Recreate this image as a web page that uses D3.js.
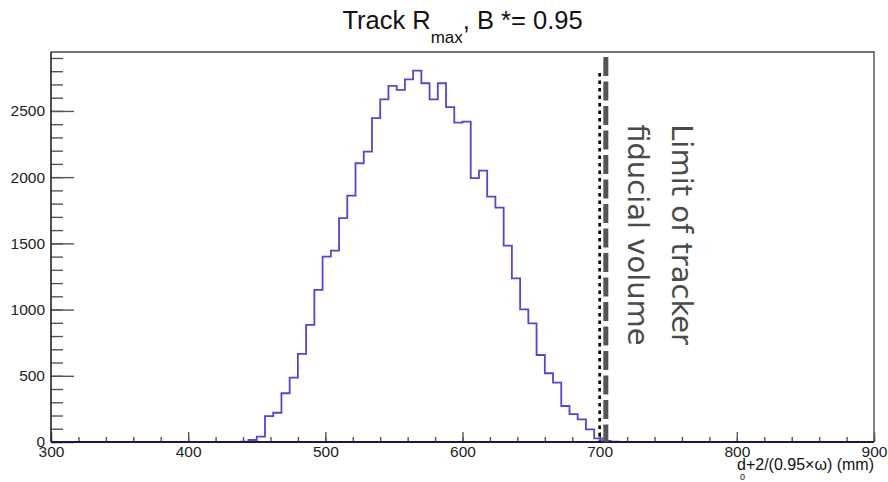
<!DOCTYPE html>
<html>
<head>
<meta charset="utf-8">
<script src="https://cdn.jsdelivr.net/npm/d3@7"></script>
<style>
  body { margin: 0; background: #fff; }
  text { font-family: "Liberation Sans", Arial, Helvetica, sans-serif; }
  .axis text { fill: #222; font-size: 15.5px; }
  .axis line { stroke: #555; stroke-width: 1.4; }
  .axis .domain { display: none; }
</style>
</head>
<body>
<svg id="chart"></svg>
<script>
// histogram: 100 bins of 6 mm from 300 to 900
const binStart = 300;
const binWidth = 6;
const counts = [
  0, 0, 0, 0, 0, 0, 0, 0, 0, 0,
  0, 0, 0, 0, 0, 0, 0, 0, 0, 0,
  0, 0, 0, 3, 15, 40, 196, 221, 368, 486,
  665, 884, 1148, 1400, 1445, 1690, 1860, 2105, 2193, 2445,
  2588, 2689, 2659, 2739, 2804, 2709, 2588, 2709, 2528, 2412,
  2420, 1992, 2049, 1853, 1770, 1483, 1236, 1002, 896, 657,
  519, 448, 272, 211, 171, 96, 28, 8, 3, 0,
  0, 0, 0, 0, 0, 0, 0, 0, 0, 0,
  0, 0, 0, 0, 0, 0, 0, 0, 0, 0,
  0, 0, 0, 0, 0, 0, 0, 0, 0, 0
];

const xMajor = [300, 400, 500, 600, 700, 800, 900];
const xMinor = d3.range(300, 901, 20);
const yMajor = [0, 500, 1000, 1500, 2000, 2500];
const yMinor = d3.range(0, 2901, 100);

// fiducial limit markers
const limitDotted = {x: 700, top: 2787};
const limitDashed = {x: 704.5, top: 2908};
const limitText = ["Limit of tracker", "fiducial volume"];

const width = 888, height = 482;
const margin = {top: 52, right: 14, bottom: 40, left: 51};
const innerW = width - margin.left - margin.right;
const innerH = height - margin.top - margin.bottom;

const svg = d3.select('#chart')
    .attr('width', width)
    .attr('height', height);

const chart = svg.append('g')
    .attr('transform', `translate(${margin.left},${margin.top})`);

const xScale = d3.scaleLinear().domain([300, 900]).range([0, innerW]);
const yScale = d3.scaleLinear().domain([0, 2945]).range([innerH, 0]);

// frame (top and right)
chart.append('path')
    .attr('d', `M0,0H${innerW}V${innerH}`)
    .attr('fill', 'none')
    .attr('stroke', '#444')
    .attr('stroke-width', 1.3);

// minor ticks first, then major ticks with labels
chart.append('g')
    .attr('class', 'axis')
    .attr('transform', `translate(0,${innerH})`)
    .call(d3.axisBottom(xScale).tickValues(xMinor).tickSize(-5).tickFormat(''));

chart.append('g')
    .attr('class', 'axis')
    .attr('transform', `translate(0,${innerH})`)
    .call(d3.axisBottom(xScale).tickValues(xMajor).tickSize(-10).tickPadding(3).tickFormat(d3.format('d')))
    .call(g => g.selectAll('text').attr('y', 3).attr('dy', '0.75em'));

chart.append('g')
    .attr('class', 'axis')
    .call(d3.axisLeft(yScale).tickValues(yMinor).tickSize(-12).tickFormat(''));

chart.append('g')
    .attr('class', 'axis')
    .call(d3.axisLeft(yScale).tickValues(yMajor).tickSize(-23).tickPadding(6).tickFormat(d3.format('d')));

// histogram outline
const steps = counts.map((c, i) => [binStart + i * binWidth, c]);
steps.push([binStart + counts.length * binWidth, counts[counts.length - 1]]);

const line = d3.line()
    .x(d => xScale(d[0]))
    .y(d => yScale(d[1]))
    .curve(d3.curveStepAfter);

chart.append('path')
    .datum(steps)
    .attr('d', line)
    .attr('fill', 'none')
    .attr('stroke', '#5546cc')
    .attr('stroke-width', 1.8);

// axis lines over the histogram
chart.append('line')
    .attr('x1', 0).attr('x2', innerW)
    .attr('y1', innerH).attr('y2', innerH)
    .attr('stroke', '#1a1a4a').attr('stroke-width', 1.8);
chart.append('line')
    .attr('x1', 0).attr('x2', 0)
    .attr('y1', 0).attr('y2', innerH)
    .attr('stroke', '#222').attr('stroke-width', 1.6);

// limit lines
chart.append('line')
    .attr('x1', xScale(limitDashed.x)).attr('x2', xScale(limitDashed.x))
    .attr('y1', yScale(limitDashed.top)).attr('y2', yScale(0))
    .attr('stroke', '#555')
    .attr('stroke-width', 5)
    .attr('stroke-dasharray', '19,5.5');

chart.append('line')
    .attr('x1', xScale(limitDotted.x)).attr('x2', xScale(limitDotted.x))
    .attr('y1', yScale(limitDotted.top)).attr('y2', yScale(0))
    .attr('stroke', '#000')
    .attr('stroke-width', 2.7)
    .attr('stroke-dasharray', '3.5,4');

// rotated annotation
const noteY = yScale(2400);
limitText.forEach((t, i) => {
  chart.append('text')
      .attr('transform', `translate(${xScale(753) - i * 44},${noteY}) rotate(90)`)
      .style('font-family', '"DejaVu Sans", sans-serif')
      .style('font-size', '29px')
      .attr('fill', '#4a4a4a')
      .text(t);
});

// title
const title = svg.append('text')
    .attr('x', margin.left + innerW / 2)
    .attr('y', 29)
    .attr('text-anchor', 'middle')
    .style('font-size', '25.5px')
    .attr('fill', '#111');
title.append('tspan').text('Track R');
title.append('tspan').attr('dy', 14).style('font-size', '17px').text('max');
title.append('tspan').attr('dy', -14).text(', B *= 0.95');

// x axis title
const xTitle = svg.append('text')
    .attr('x', margin.left + innerW)
    .attr('y', 470)
    .attr('text-anchor', 'end')
    .style('font-size', '16px')
    .attr('fill', '#111');
xTitle.append('tspan').text('d');
xTitle.append('tspan').attr('dx', -6).attr('dy', 10).style('font-size', '9px').text('0');
xTitle.append('tspan').attr('dx', 1).attr('dy', -10).text('+2/(0.95\u00d7\u03c9) (mm)');
</script>
</body>
</html>
